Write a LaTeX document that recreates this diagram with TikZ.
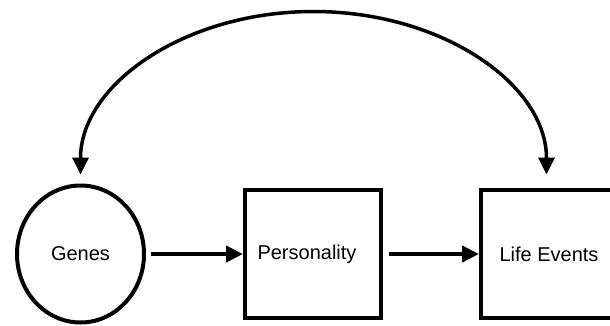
\documentclass[tikz,border=0pt]{standalone}
\usepackage{fontspec}
\setmainfont{Liberation Sans}
\usetikzlibrary{positioning,arrows.meta,shapes.geometric}

\begin{document}
\begin{tikzpicture}[
    x=1pt, y=1pt,
    factorNode/.style={draw=black, line width=4pt, font=\fontsize{20}{24}\selectfont, inner sep=0pt},
    varBox/.style={factorNode, rectangle, minimum width=136pt, minimum height=128pt},
    latentNode/.style={factorNode, ellipse, minimum width=127pt, minimum height=137pt},
    pathArrow/.style={line width=4.5pt, -{Triangle[length=17pt,width=16pt]}},
    covArrow/.style={line width=3.5pt, {Triangle[length=17pt,width=16pt]}-{Triangle[length=17pt,width=16pt]}}
]
    \useasboundingbox (0,0) rectangle (610,325);

    \node[latentNode] (genes) at (80.5, 71) {Genes};
    \node[varBox] (pers) at (313, 71) {\hspace*{-12pt}Personality};
    \node[varBox] (life) at (549, 71) {Life Events};

    \draw[pathArrow, shorten <=5pt] (genes.east) -- (pers.west);
    \draw[pathArrow, shorten <=6pt] (pers.east) -- (life.west);

    \coordinate (gtip) at ([yshift=9pt]genes.north);
    \draw[covArrow] (gtip) arc[start angle=180, end angle=0, x radius=233pt, y radius=163pt];
\end{tikzpicture}
\end{document}
